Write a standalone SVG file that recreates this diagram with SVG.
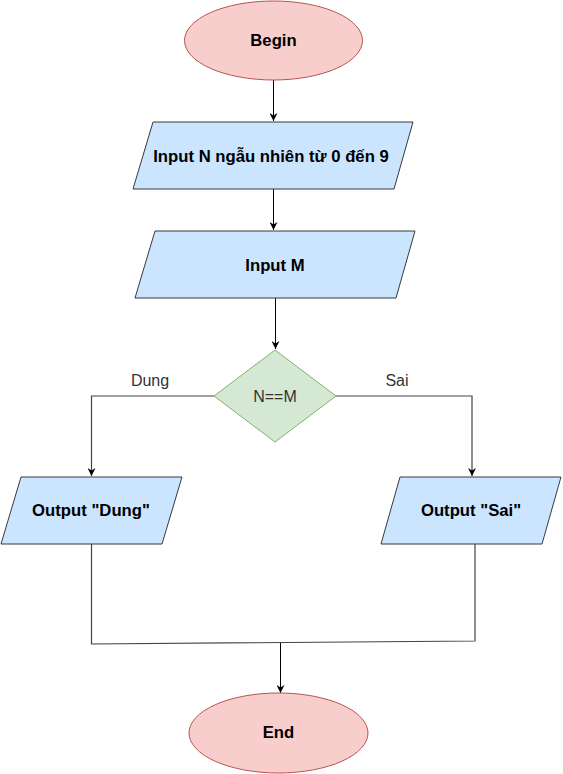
<svg xmlns="http://www.w3.org/2000/svg" width="563" height="774" viewBox="0 0 563 774">
<defs>
<style>
.term{fill:#f8cecc;stroke:#b85450;stroke-width:1}
.io{fill:#cce5ff;stroke:#36393d;stroke-width:1}
.dec{fill:#d5e8d4;stroke:#82b366;stroke-width:1}
.b{font-family:"Liberation Sans",Arial,sans-serif;font-weight:bold;font-size:16.7px;fill:#000;text-anchor:middle;dominant-baseline:central}
.n{font-family:"Liberation Sans",Arial,sans-serif;font-size:16px;fill:#333;text-anchor:middle;dominant-baseline:central}
.edge{fill:none;stroke:#000;stroke-width:1}
.gedge{fill:none;stroke:#444;stroke-width:1.2}
</style>
<marker id="arr" viewBox="0 0 10 10" refX="10" refY="5" markerWidth="8" markerHeight="8" markerUnits="userSpaceOnUse" orient="auto">
<path d="M0,0 L10,5 L0,10 L3,5 Z" fill="#000"/>
</marker>
</defs>
<rect width="563" height="774" fill="#fff"/>
<g id="connectors">
<path class="edge" d="M273.5,80 L273.5,121" marker-end="url(#arr)"/>
<path class="edge" d="M273.5,189 L273.5,230" marker-end="url(#arr)"/>
<path class="edge" d="M275.5,298 L275.5,349" marker-end="url(#arr)"/>
<path class="gedge" d="M214,396 L91.5,396 L91.5,476" marker-end="url(#arr)"/>
<path class="gedge" d="M336,396 L472,396 L472,476" marker-end="url(#arr)"/>
<path class="gedge" d="M91.5,544 L91.5,644 L475,641 L475,544"/>
<path class="edge" d="M280.5,643 L280.5,693" marker-end="url(#arr)"/>
<text class="n" x="150" y="380">Dung</text>
<text class="n" x="397" y="380">Sai</text>
</g>
<g id="begin">
<ellipse class="term" cx="273.5" cy="40.5" rx="89" ry="39.5"/>
<text class="b" x="273.5" y="40">Begin</text>
</g>
<g id="inputN">
<polygon class="io" points="153,122 413,122 394,189 133,189"/>
<text class="b" x="271" y="156">Input N ngẫu nhiên từ 0 đến 9</text>
</g>
<g id="inputM">
<polygon class="io" points="155,231 415,231 396,298 135,298"/>
<text class="b" x="275" y="265">Input M</text>
</g>
<g id="decision">
<polygon class="dec" points="275,350 336,396 275,442 214,396"/>
<text class="n" x="275" y="396">N==M</text>
</g>
<g id="outDung">
<polygon class="io" points="21,477 182,477 162,544 1,544"/>
<text class="b" x="91" y="510">Output "Dung"</text>
</g>
<g id="outSai">
<polygon class="io" points="400,477 561,477 542,544 381,544"/>
<text class="b" x="471" y="510">Output "Sai"</text>
</g>
<g id="end">
<ellipse class="term" cx="278.5" cy="733" rx="89.5" ry="40"/>
<text class="b" x="278.5" y="732">End</text>
</g>
</svg>
